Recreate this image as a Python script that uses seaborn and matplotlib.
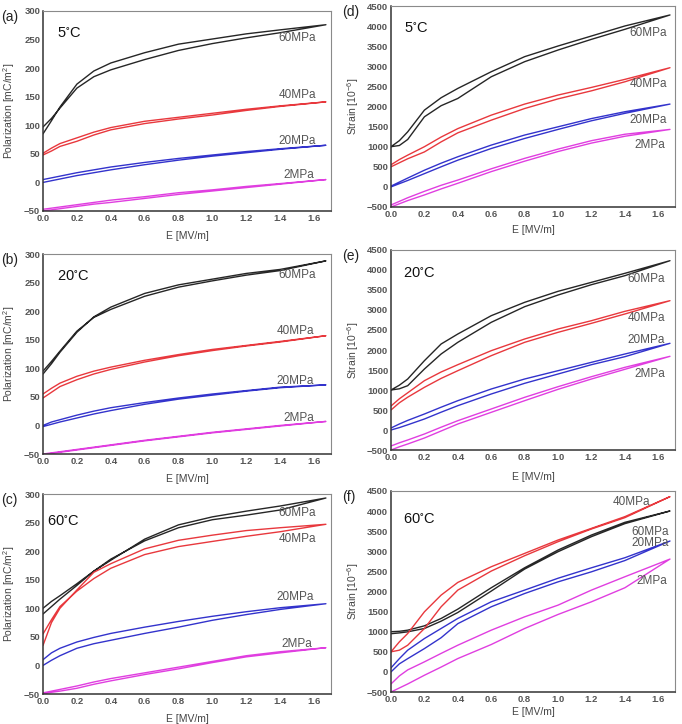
import numpy as np
import pandas as pd
import seaborn as sns
import matplotlib.pyplot as plt
from matplotlib.ticker import MultipleLocator

# electric field grid (MV/m), same for every loop
E = [0.0, 0.05, 0.1, 0.2, 0.3, 0.4, 0.6, 0.8, 1.0, 1.2, 1.4, 1.67]
pressures = ['60MPa', '40MPa', '20MPa', '2MPa']

# polarization loops [mC/m2], rows = 60, 40, 20, 2 MPa
pol_5C_up = [[85, 108, 132, 172, 195, 209, 227, 242, 251, 260, 267, 276],
             [51, 60, 68, 78, 88, 96, 107, 114, 121, 128, 134, 141],
             [5, 8, 11, 17, 22, 27, 35, 42, 48, 54, 59, 65],
             [-47, -45, -43, -39, -35, -31, -25, -18, -13, -7, -2, 5]]
pol_5C_dn = [[97, 112, 130, 165, 185, 197, 215, 231, 243, 253, 262, 276],
             [48, 55, 63, 72, 83, 92, 103, 111, 118, 126, 133, 141],
             [0, 3, 6, 12, 17, 22, 31, 39, 46, 52, 58, 65],
             [-50, -48, -46, -42, -38, -35, -28, -21, -15, -9, -3, 5]]
pol_20C_up = [[90, 108, 128, 163, 190, 207, 231, 246, 256, 266, 273, 288],
              [55, 65, 74, 86, 95, 102, 114, 124, 133, 140, 147, 157],
              [0, 6, 10, 18, 25, 31, 40, 48, 55, 61, 67, 71],
              [-50, -48, -46, -42, -38, -34, -26, -19, -12, -6, 0, 7]]
pol_20C_dn = [[95, 112, 130, 165, 189, 203, 226, 242, 253, 263, 271, 288],
              [48, 58, 68, 80, 90, 98, 111, 122, 131, 139, 146, 157],
              [-2, 2, 6, 13, 20, 26, 37, 46, 53, 60, 66, 71],
              [-51, -49, -47, -43, -39, -35, -27, -20, -13, -7, -1, 7]]
pol_60C_up = [[100, 112, 122, 143, 165, 184, 221, 246, 260, 270, 279, 293],
              [35, 75, 100, 132, 163, 178, 204, 219, 228, 236, 241, 247],
              [10, 22, 30, 41, 49, 56, 67, 77, 86, 94, 101, 108],
              [-48, -45, -42, -36, -29, -23, -13, -3, 7, 17, 24, 31]]
pol_60C_dn = [[90, 103, 116, 140, 165, 186, 218, 241, 255, 263, 272, 293],
              [55, 80, 103, 130, 152, 170, 194, 208, 217, 226, 234, 247],
              [0, 9, 17, 30, 38, 44, 56, 67, 79, 89, 98, 108],
              [-50, -47, -45, -40, -33, -27, -16, -6, 5, 15, 22, 31]]

# strain loops [1e-6]
str_5C_up = [[1000, 1150, 1370, 1910, 2218, 2450, 2865, 3240, 3505, 3754, 4003, 4277],
             [550, 680, 790, 1000, 1240, 1450, 1785, 2060, 2285, 2475, 2675, 2965],
             [20, 120, 220, 415, 590, 750, 1040, 1290, 1495, 1700, 1870, 2060],
             [-450, -360, -270, -110, 40, 170, 450, 710, 940, 1150, 1310, 1430]]
str_5C_dn = [[1000, 1030, 1180, 1744, 2020, 2200, 2740, 3115, 3405, 3671, 3920, 4277],
             [500, 600, 700, 870, 1120, 1345, 1660, 1950, 2190, 2390, 2615, 2965],
             [0, 80, 160, 330, 500, 665, 955, 1205, 1430, 1645, 1830, 2060],
             [-500, -420, -340, -200, -50, 90, 380, 640, 880, 1090, 1260, 1430]]
str_20C_up = [[1000, 1120, 1275, 1733, 2150, 2400, 2858, 3192, 3467, 3692, 3917, 4233],
              [600, 780, 930, 1233, 1450, 1633, 1983, 2275, 2525, 2733, 2967, 3233],
              [50, 150, 240, 400, 570, 733, 1025, 1275, 1483, 1692, 1900, 2167],
              [-400, -320, -250, -100, 70, 233, 525, 817, 1083, 1333, 1567, 1842]]
str_20C_dn = [[1000, 1030, 1108, 1525, 1900, 2192, 2692, 3083, 3375, 3633, 3858, 4233],
              [500, 680, 820, 1067, 1290, 1483, 1858, 2192, 2442, 2667, 2900, 3233],
              [0, 60, 130, 275, 445, 608, 900, 1167, 1400, 1633, 1833, 2167],
              [-500, -420, -350, -200, -25, 150, 442, 733, 1017, 1275, 1517, 1842]]
str_60C_up = [[1000, 1010, 1038, 1146, 1329, 1561, 2093, 2591, 3032, 3405, 3721, 4003],
              [500, 747, 955, 1495, 1910, 2226, 2616, 2948, 3281, 3571, 3862, 4360],
              [100, 330, 540, 830, 1080, 1330, 1744, 2035, 2330, 2590, 2840, 3256],
              [-300, -100, 50, 250, 460, 664, 1038, 1370, 1661, 2035, 2367, 2807]]
str_60C_dn = [[950, 970, 997, 1080, 1262, 1478, 2010, 2558, 2990, 3364, 3688, 4003],
              [500, 540, 664, 1080, 1620, 2035, 2508, 2890, 3239, 3555, 3837, 4360],
              [0, 200, 330, 580, 850, 1200, 1620, 1950, 2240, 2490, 2770, 3256],
              [-500, -400, -300, -83, 120, 332, 681, 1080, 1429, 1744, 2093, 2807]]

# label positions (E, value) for the pressure tags
lab_a = [(1.50, 253), (1.50, 153), (1.50, 72), (1.51, 13)]
lab_b = [(1.50, 264), (1.49, 165), (1.49, 78), (1.51, 13)]
lab_c = [(1.50, 266), (1.50, 221), (1.49, 120), (1.50, 37)]
lab_d = [(1.54, 3820), (1.54, 2560), (1.54, 1660), (1.55, 1040)]
lab_e = [(1.53, 3775), (1.53, 2800), (1.53, 2250), (1.55, 1400)]
lab_f = [(1.55, 3488), (1.44, 4219), (1.55, 3214), (1.56, 2259)]

colors = {'60MPa': '#262626', '40MPa': '#e8383d', '20MPa': '#3333cc', '2MPa': '#e03ee0'}


def loop_frame(up, dn):
    rows = []
    for p, u, d in zip(pressures, up, dn):
        xs = E + E[::-1]
        ys = list(u) + list(d)[::-1]
        for i, (x, y) in enumerate(zip(xs, ys)):
            rows.append({'E': x, 'val': y, 'pressure': p, 'order': i})
    return pd.DataFrame(rows)


sns.set_style("white")
plt.rcParams['font.family'] = ['Liberation Sans', 'DejaVu Sans']
plt.rcParams['mathtext.default'] = 'regular'

fig = plt.figure(figsize=(6.82, 7.24), dpi=100)
W, H = 682, 724

# (letter, temp, up, dn, labels, left, top, right, bottom, kind, temp pos, xlabel y)
panels = [
    ('(a)', '5', pol_5C_up, pol_5C_dn, lab_a, 43, 11, 331, 211, 'pol', (0.05, 0.89), -0.10),
    ('(b)', '20', pol_20C_up, pol_20C_dn, lab_b, 43, 254, 331, 454, 'pol', (0.05, 0.89), -0.10),
    ('(c)', '60', pol_60C_up, pol_60C_dn, lab_c, 43, 494, 331, 694, 'pol', (0.015, 0.865), -0.10),
    ('(d)', '5', str_5C_up, str_5C_dn, lab_d, 391, 6, 675, 207, 'str', (0.045, 0.89), -0.09),
    ('(e)', '20', str_20C_up, str_20C_dn, lab_e, 391, 250, 675, 450, 'str', (0.042, 0.885), -0.11),
    ('(f)', '60', str_60C_up, str_60C_dn, lab_f, 391, 491, 675, 692, 'str', (0.042, 0.86), -0.075),
]

for letter, temp, up, dn, labs, l, t, r, b, kind, tpos, xlab_y in panels:
    ax = fig.add_axes([l / W, (H - b) / H, (r - l) / W, (b - t) / H])
    df = loop_frame(up, dn)
    sns.lineplot(data=df, x='E', y='val', hue='pressure', palette=colors,
                 sort=False, estimator=None, legend=False, linewidth=1.0, ax=ax)
    ax.set_xlim(0, 1.7)
    ax.xaxis.set_major_locator(MultipleLocator(0.2))
    ax.xaxis.set_minor_locator(MultipleLocator(0.05))
    if kind == 'pol':
        ax.set_ylim(-50, 300)
        ax.yaxis.set_major_locator(MultipleLocator(50))
        ax.yaxis.set_minor_locator(MultipleLocator(10))
        ax.set_ylabel('Polarization [mC/m$^2$]', fontsize=7.5, color='#444444')
        ax.yaxis.set_label_coords(-0.092, 0.5)
    else:
        ax.set_ylabel('Strain [10$^{-6}$]', fontsize=7.5, color='#444444')
        ax.set_ylim(-500, 4500)
        ax.yaxis.set_major_locator(MultipleLocator(500))
        ax.yaxis.set_minor_locator(MultipleLocator(100))
        ax.yaxis.set_label_coords(-0.105, 0.5)
    ax.set_xlabel('E [MV/m]', fontsize=7.5, color='#444444')
    ax.xaxis.set_label_coords(0.5, xlab_y)
    ax.xaxis.label.set_va('top')

    ax.tick_params(which='both', direction='in', colors='#333333',
                   labelcolor='#555555', labelsize=6.8, pad=2)
    ax.tick_params(which='major', length=3.5, width=0.8)
    ax.tick_params(which='minor', length=1.8, width=0.6)
    for lab in ax.get_xticklabels() + ax.get_yticklabels():
        lab.set_fontweight('bold')
    for side in ['left', 'bottom']:
        ax.spines[side].set_color('#333333')
        ax.spines[side].set_linewidth(1.1)
    for side in ['top', 'right']:
        ax.spines[side].set_color('#8a8a8a')
        ax.spines[side].set_linewidth(0.8)

    for p, (x, y) in zip(pressures, labs):
        ax.text(x, y, p, fontsize=8.5, color='#555555', ha='center', va='center')
    ax.text(tpos[0], tpos[1], temp + '$^{\\circ}$C', transform=ax.transAxes,
            fontsize=10.5, color='#111111', ha='left', va='center')
    fig.text((l - 43 + 1) / W if kind == 'pol' else (l - 50 + 1) / W,
             (H - t + 1) / H, letter, fontsize=10, color='#222222',
             ha='left', va='top')

plt.savefig('out.png', dpi=100)
